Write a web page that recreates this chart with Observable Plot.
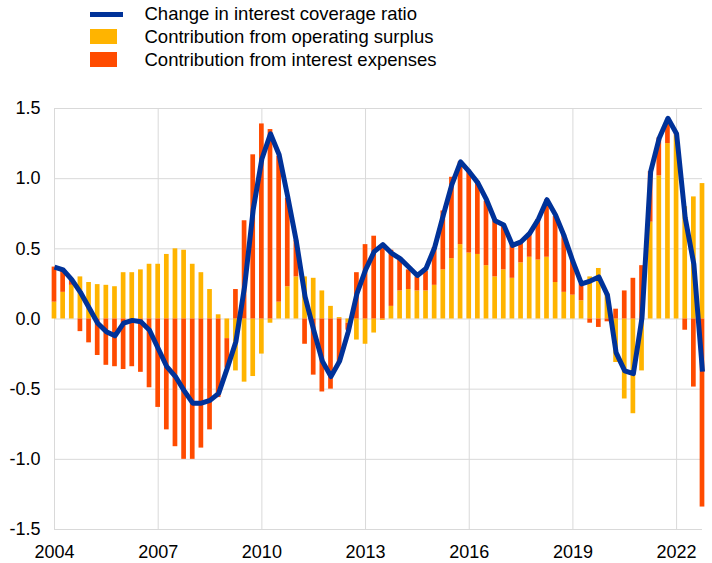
<!DOCTYPE html>
<html>
<head>
<meta charset="utf-8">
<script src="https://cdn.jsdelivr.net/npm/d3@7"></script>
<script src="https://cdn.jsdelivr.net/npm/@observablehq/plot@0.6"></script>
<style>
  body { margin: 0; background: #fff; font-family: "Liberation Sans", Arial, sans-serif; }
  #wrap { position: relative; width: 712px; height: 563px; overflow: hidden; background: #fff; }
  .item { position: absolute; left: 90px; height: 20px; width: 500px; }
  .sw { position: absolute; left: 0; }
  .lab { position: absolute; left: 54.5px; top: 0; white-space: nowrap; font-size: 18.5px; line-height: 20px; color: #000; }
  #chart { position: absolute; left: 0; top: 80px; }
</style>
</head>
<body>
<div id="wrap">
  <div id="legend"></div>
  <div id="chart"></div>
</div>
<script>
// ---- Data (quarterly, 2004 Q1 – 2022 Q4) ----
const startYear = 2004;
const seriesNames = [
  "Change in interest coverage ratio",
  "Contribution from operating surplus",
  "Contribution from interest expenses"
];
const surplus = [
  0.12, 0.19, 0.24, 0.30,   0.26, 0.245, 0.24, 0.23,   0.33, 0.33, 0.35, 0.39,
  0.39, 0.46, 0.50, 0.49,   0.39, 0.33, 0.21, 0.03,   -0.14, -0.37, -0.45, -0.41,
  -0.25, -0.03, 0.12, 0.23, 0.30, 0.30, 0.29, 0.20,   0.09, 0.01, -0.03, -0.15,
  -0.18, -0.10, -0.01, 0.09, 0.20, 0.21, 0.20, 0.20,  0.24, 0.35, 0.43, 0.53,
  0.47, 0.46, 0.38, 0.30,   0.35, 0.29, 0.40, 0.44,   0.42, 0.44, 0.26, 0.19,
  0.17, 0.13, 0.30, 0.36,   0.18, -0.31, -0.57, -0.675, -0.37, 0.69, 1.02, 1.25,
  1.31, 0.80, 0.87, 0.965
];
const interest = [
  0.25, 0.15, 0.04, -0.09,  -0.17, -0.26, -0.33, -0.34,  -0.36, -0.34, -0.38, -0.49,
  -0.63, -0.79, -0.91, -1.00, -1.00, -0.92, -0.79, -0.56, -0.21, 0.21, 0.70, 1.17,
  1.39, 1.35, 1.04, 0.63,   0.26, -0.18, -0.40, -0.52,  -0.50, -0.31, -0.05, 0.33,
  0.53, 0.59, 0.52, 0.40,   0.22, 0.14, 0.10, 0.14,    0.27, 0.42, 0.58, 0.59,
  0.59, 0.52, 0.46, 0.40,   0.32, 0.24, 0.14, 0.17,    0.29, 0.41, 0.47, 0.41,
  0.24, 0.12, -0.03, -0.06, -0.02, 0.07, 0.20, 0.29,   0.38, 0.36, 0.27, 0.17,
  0.01, -0.08, -0.485, -1.34
];
const ratio = [
  0.37, 0.35, 0.28, 0.19,   0.08, -0.03, -0.09, -0.12,  -0.03, -0.01, -0.02, -0.08,
  -0.21, -0.34, -0.41, -0.51, -0.60, -0.60, -0.58, -0.53, -0.35, -0.16, 0.23, 0.78,
  1.14, 1.32, 1.17, 0.87,   0.55, 0.16, -0.08, -0.30,   -0.41, -0.30, -0.09, 0.18,
  0.35, 0.48, 0.53, 0.47,   0.43, 0.37, 0.31, 0.36,    0.51, 0.74, 0.96, 1.12,
  1.05, 0.97, 0.85, 0.70,   0.67, 0.525, 0.55, 0.61,   0.71, 0.85, 0.74, 0.59,
  0.41, 0.25, 0.27, 0.30,   0.17, -0.24, -0.37, -0.39,  0.01, 1.05, 1.29, 1.43,
  1.32, 0.72, 0.39, -0.375
];
const xTicks = [2004, 2007, 2010, 2013, 2016, 2019, 2022];
const yTicks = [-1.5, -1.0, -0.5, 0, 0.5, 1.0, 1.5];

// ---- Styling ----
const BLUE = "#003299", YELLOW = "#FFB400", ORANGE = "#FF4B00", GRID = "#D9D9D9";

// ---- Legend (HTML, above the SVG) ----
const legend = document.getElementById("legend");
const legendItems = [
  {name: seriesNames[0], top: 4.3, sw: `top:7.4px;width:33px;height:5px;background:${BLUE}`},
  {name: seriesNames[1], top: 26.9, sw: `top:2.1px;width:27px;height:15px;background:${YELLOW}`},
  {name: seriesNames[2], top: 49.6, sw: `top:2.1px;width:27px;height:15px;background:${ORANGE}`}
];
for (const it of legendItems) {
  const d = document.createElement("div");
  d.className = "item";
  d.style.top = it.top + "px";
  d.innerHTML = `<div class="sw" style="${it.sw}"></div><div class="lab"></div>`;
  d.querySelector(".lab").textContent = it.name;
  legend.appendChild(d);
}

// ---- Tidy data ----
const tq = i => startYear + i / 4;
const bars = [];
surplus.forEach((v, i) => bars.push({t: tq(i), series: seriesNames[1], v}));
interest.forEach((v, i) => bars.push({t: tq(i), series: seriesNames[2], v}));
const lineData = ratio.map((v, i) => ({t: tq(i), v}));
const hw = 0.068; // half bar width, in years

const chart = Plot.plot({
  width: 712,
  height: 483,
  marginTop: 28,
  marginBottom: 34,
  marginLeft: 54,
  marginRight: 10,
  style: {fontSize: "18px", fontFamily: "'Liberation Sans', Arial, sans-serif", background: "white", color: "#000", overflow: "visible"},
  x: {domain: [2004, 2022.75], ticks: xTicks, tickFormat: d => String(d), tickSize: 0, tickPadding: 16, label: null},
  y: {domain: [-1.5, 1.5], ticks: yTicks, tickFormat: d => d.toFixed(1), tickSize: 0, tickPadding: 14, label: null},
  color: {domain: [seriesNames[1], seriesNames[2]], range: [YELLOW, ORANGE]},
  marks: [
    Plot.ruleY(yTicks, {stroke: GRID, strokeWidth: 1}),
    Plot.ruleX(xTicks, {stroke: GRID, strokeWidth: 1}),
    Plot.rectY(bars, Plot.stackY({x: "t", x1: d => d.t - hw, x2: d => d.t + hw, y: "v", fill: "series"})),
    Plot.line(lineData, {x: "t", y: "v", stroke: BLUE, strokeWidth: 5, strokeLinejoin: "round", strokeLinecap: "butt"})
  ]
});
document.getElementById("chart").appendChild(chart);
</script>
</body>
</html>
